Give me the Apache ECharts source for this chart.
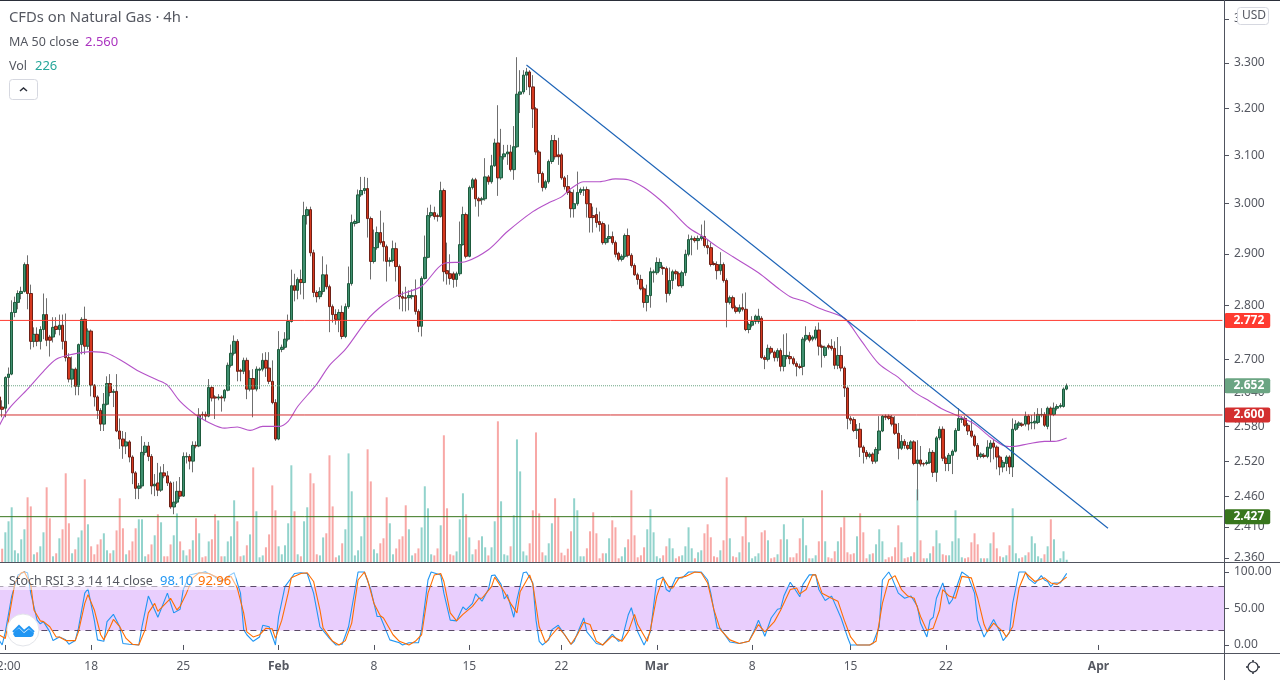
<!DOCTYPE html>
<html>
<head>
<meta charset="utf-8">
<title>CFDs on Natural Gas</title>
<style>
html, body { margin: 0; padding: 0; background: #fff; }
#mainChart { width: 1280px; height: 680px; }
</style>
<script src="https://cdn.jsdelivr.net/npm/echarts@6/dist/echarts.min.js"></script>
</head>
<body>
<div id="mainChart"></div>
<script>
// candles, one line = 10 bars
const opens = [
    2.632,2.614,2.612,2.667,2.673,2.787,2.806,2.823,2.827,2.879,
    2.823,2.733,2.746,2.733,2.755,2.783,2.741,2.741,2.761,2.755,
    2.763,2.733,2.703,2.664,2.682,2.651,2.727,2.774,2.724,2.752,
    2.653,2.632,2.608,2.584,2.619,2.656,2.640,2.642,2.572,2.558,
    2.546,2.553,2.527,2.500,2.474,2.478,2.535,2.546,2.528,2.478,
    2.483,2.471,2.500,2.495,2.483,2.443,2.451,2.469,2.461,2.527,
    2.528,2.520,2.547,2.546,2.601,2.601,2.598,2.649,2.632,2.630,
    2.632,2.630,2.644,2.689,2.711,2.733,2.680,2.678,2.698,2.646,
    2.665,2.646,2.680,2.682,2.698,2.684,2.660,2.622,2.558,2.718,
    2.722,2.737,2.770,2.838,2.829,2.850,2.844,2.976,2.988,2.902,
    2.825,2.817,2.827,2.859,2.836,2.798,2.783,2.774,2.787,2.742,
    2.798,2.842,2.960,2.962,3.018,3.027,3.031,2.970,2.885,2.912,
    2.942,2.924,2.914,2.885,2.887,2.910,2.875,2.817,2.815,2.815,
    2.817,2.819,2.789,2.761,2.852,2.893,2.976,2.982,2.976,2.974,
    3.027,2.867,2.861,2.861,2.850,2.861,2.918,2.978,2.895,3.033,
    3.049,3.010,3.008,3.010,3.055,3.045,3.078,3.126,3.053,3.097,
    3.103,3.107,3.070,3.118,3.231,3.236,3.273,3.280,3.247,3.199,
    3.107,3.062,3.033,3.045,3.087,3.131,3.101,3.101,3.053,3.035,
    3.023,2.990,3.000,3.023,3.027,3.029,3.000,2.976,2.978,2.964,
    2.960,2.922,2.930,2.934,2.922,2.901,2.889,2.895,2.936,2.897,
    2.877,2.859,2.850,2.832,2.806,2.819,2.863,2.863,2.873,2.873,
    2.871,2.823,2.848,2.865,2.861,2.838,2.863,2.899,2.928,2.930,
    2.926,2.930,2.934,2.916,2.912,2.881,2.879,2.867,2.879,2.848,
    2.806,2.815,2.796,2.789,2.796,2.793,2.755,2.763,2.770,2.770,
    2.776,2.703,2.700,2.720,2.713,2.703,2.716,2.687,2.705,2.705,
    2.701,2.692,2.687,2.687,2.737,2.744,2.737,2.739,2.754,2.724,
    2.707,2.725,2.724,2.720,2.689,2.707,2.684,2.648,2.594,2.592,
    2.573,2.575,2.544,2.535,2.528,2.532,2.520,2.539,2.572,2.598,
    2.598,2.596,2.584,2.568,2.542,2.554,2.547,2.542,2.553,2.516,
    2.522,2.516,2.516,2.518,2.535,2.501,2.560,2.575,2.525,2.516,
    2.530,2.537,2.573,2.592,2.594,2.582,2.572,2.563,2.547,2.528,
    2.530,2.528,2.542,2.551,2.544,2.527,2.510,2.516,2.527,2.510,
    2.575,2.582,2.584,2.584,2.598,2.586,2.586,2.587,2.600,2.601,
    2.580,2.612,2.601,2.612,2.615,2.615,2.646
];
const closes = [
    2.612,2.610,2.667,2.673,2.787,2.806,2.823,2.827,2.879,2.823,
    2.733,2.746,2.733,2.755,2.783,2.735,2.735,2.759,2.755,2.763,
    2.733,2.703,2.664,2.682,2.651,2.727,2.774,2.724,2.752,2.653,
    2.632,2.608,2.584,2.619,2.656,2.640,2.642,2.572,2.558,2.546,
    2.553,2.527,2.500,2.474,2.478,2.535,2.546,2.528,2.478,2.481,
    2.471,2.500,2.495,2.483,2.443,2.451,2.469,2.461,2.528,2.528,
    2.520,2.547,2.546,2.600,2.600,2.598,2.649,2.630,2.630,2.632,
    2.630,2.644,2.689,2.711,2.733,2.678,2.678,2.698,2.646,2.665,
    2.646,2.682,2.682,2.698,2.684,2.660,2.622,2.558,2.718,2.722,
    2.737,2.770,2.838,2.829,2.850,2.844,2.976,2.988,2.902,2.825,
    2.817,2.827,2.859,2.836,2.798,2.783,2.774,2.787,2.742,2.798,
    2.842,2.962,2.964,3.018,3.027,3.031,2.970,2.885,2.912,2.942,
    2.922,2.914,2.885,2.887,2.910,2.875,2.817,2.814,2.814,2.819,
    2.819,2.789,2.761,2.852,2.893,2.976,2.982,2.974,2.974,3.027,
    2.865,2.861,2.852,2.850,2.861,2.918,2.978,2.895,3.033,3.049,
    3.010,3.006,3.010,3.055,3.045,3.078,3.126,3.053,3.097,3.103,
    3.107,3.070,3.118,3.231,3.236,3.273,3.280,3.247,3.199,3.107,
    3.062,3.033,3.045,3.087,3.131,3.097,3.097,3.053,3.035,3.023,
    2.990,3.000,3.023,3.029,3.029,3.000,2.972,2.972,2.962,2.958,
    2.922,2.930,2.934,2.922,2.899,2.889,2.895,2.936,2.897,2.877,
    2.859,2.850,2.832,2.806,2.819,2.865,2.865,2.883,2.883,2.871,
    2.823,2.848,2.865,2.861,2.838,2.863,2.899,2.928,2.930,2.926,
    2.930,2.934,2.916,2.912,2.879,2.879,2.867,2.879,2.848,2.806,
    2.815,2.796,2.789,2.796,2.793,2.755,2.764,2.770,2.780,2.780,
    2.703,2.700,2.720,2.713,2.703,2.716,2.687,2.707,2.707,2.701,
    2.692,2.687,2.685,2.737,2.744,2.735,2.741,2.754,2.724,2.722,
    2.722,2.722,2.720,2.689,2.707,2.684,2.648,2.594,2.591,2.573,
    2.575,2.544,2.535,2.528,2.532,2.520,2.540,2.572,2.598,2.596,
    2.594,2.584,2.568,2.542,2.554,2.547,2.542,2.553,2.516,2.522,
    2.515,2.515,2.518,2.535,2.501,2.560,2.575,2.525,2.516,2.530,
    2.537,2.573,2.594,2.594,2.582,2.572,2.563,2.547,2.528,2.532,
    2.528,2.544,2.551,2.544,2.527,2.510,2.518,2.527,2.510,2.575,
    2.584,2.586,2.582,2.598,2.584,2.587,2.589,2.601,2.601,2.582,
    2.612,2.601,2.612,2.615,2.617,2.646,2.652
];
const highs = [
    2.642,2.626,2.669,2.685,2.810,2.817,2.829,2.836,2.883,2.897,
    2.840,2.759,2.759,2.761,2.823,2.814,2.745,2.778,2.778,2.783,
    2.783,2.785,2.711,2.705,2.685,2.729,2.778,2.798,2.757,2.755,
    2.655,2.635,2.612,2.639,2.669,2.673,2.646,2.673,2.594,2.572,
    2.570,2.556,2.530,2.503,2.483,2.563,2.553,2.553,2.532,2.498,
    2.517,2.511,2.515,2.503,2.486,2.485,2.486,2.493,2.535,2.535,
    2.532,2.554,2.554,2.612,2.606,2.606,2.664,2.651,2.635,2.637,
    2.635,2.646,2.694,2.727,2.744,2.737,2.683,2.703,2.703,2.680,
    2.682,2.687,2.685,2.711,2.713,2.713,2.698,2.628,2.752,2.727,
    2.750,2.783,2.869,2.861,2.854,2.869,3.004,2.994,2.994,2.908,
    2.829,2.835,2.895,2.879,2.840,2.802,2.793,2.793,2.800,2.804,
    2.875,2.978,2.968,3.029,3.055,3.055,3.053,2.974,2.948,2.954,
    2.986,2.962,2.918,2.893,2.926,2.922,2.879,2.827,2.836,2.829,
    2.831,2.850,2.793,2.856,2.936,2.992,2.998,2.994,2.980,3.045,
    3.031,2.922,2.899,2.865,2.865,2.964,2.994,2.982,3.037,3.053,
    3.053,3.014,3.014,3.094,3.059,3.101,3.135,3.207,3.156,3.122,
    3.122,3.122,3.162,3.313,3.284,3.284,3.289,3.284,3.273,3.203,
    3.111,3.066,3.049,3.091,3.143,3.143,3.137,3.105,3.057,3.059,
    3.027,3.029,3.066,3.033,3.035,3.035,3.029,2.994,2.992,2.984,
    2.964,2.958,2.958,2.944,2.926,2.904,2.899,2.940,2.950,2.901,
    2.881,2.863,2.859,2.836,2.840,2.873,2.869,2.893,2.891,2.877,
    2.875,2.873,2.869,2.869,2.865,2.867,2.908,2.938,2.936,2.934,
    2.936,2.958,2.966,2.928,2.922,2.885,2.885,2.903,2.883,2.852,
    2.819,2.819,2.800,2.802,2.823,2.825,2.768,2.780,2.783,2.794,
    2.780,2.707,2.727,2.724,2.716,2.720,2.720,2.746,2.748,2.714,
    2.705,2.696,2.692,2.741,2.761,2.750,2.744,2.761,2.768,2.727,
    2.725,2.729,2.737,2.733,2.741,2.724,2.687,2.651,2.598,2.596,
    2.584,2.586,2.547,2.539,2.535,2.535,2.544,2.598,2.600,2.601,
    2.601,2.600,2.598,2.586,2.565,2.558,2.553,2.556,2.556,2.556,
    2.546,2.518,2.522,2.542,2.539,2.563,2.580,2.580,2.528,2.534,
    2.540,2.577,2.612,2.598,2.598,2.586,2.592,2.566,2.551,2.535,
    2.534,2.556,2.556,2.558,2.547,2.530,2.522,2.530,2.530,2.594,
    2.591,2.589,2.587,2.606,2.601,2.600,2.605,2.612,2.612,2.605,
    2.615,2.615,2.622,2.619,2.621,2.649,2.656
];
const lows = [
    2.601,2.596,2.596,2.619,2.671,2.778,2.793,2.812,2.825,2.793,
    2.718,2.722,2.724,2.718,2.737,2.724,2.705,2.731,2.746,2.744,
    2.718,2.696,2.658,2.649,2.635,2.635,2.709,2.709,2.718,2.633,
    2.615,2.593,2.572,2.572,2.617,2.633,2.614,2.570,2.541,2.524,
    2.532,2.518,2.481,2.456,2.456,2.474,2.530,2.520,2.464,2.461,
    2.461,2.468,2.491,2.478,2.440,2.431,2.448,2.456,2.460,2.516,
    2.506,2.501,2.542,2.544,2.593,2.589,2.596,2.624,2.593,2.626,
    2.606,2.624,2.642,2.685,2.707,2.660,2.660,2.673,2.628,2.642,
    2.596,2.642,2.646,2.678,2.668,2.655,2.619,2.555,2.556,2.713,
    2.718,2.733,2.768,2.808,2.812,2.821,2.812,2.958,2.895,2.816,
    2.806,2.812,2.821,2.831,2.750,2.768,2.764,2.750,2.737,2.739,
    2.794,2.838,2.954,2.960,3.014,3.020,2.932,2.850,2.881,2.908,
    2.918,2.885,2.846,2.875,2.883,2.846,2.793,2.789,2.789,2.791,
    2.812,2.783,2.750,2.742,2.850,2.891,2.972,2.968,2.964,2.972,
    2.846,2.840,2.840,2.834,2.836,2.857,2.916,2.891,2.893,3.029,
    2.994,2.974,2.998,3.006,3.039,3.041,3.076,3.016,3.049,3.091,
    3.080,3.066,3.049,3.116,3.190,3.231,3.240,3.229,3.158,3.101,
    3.043,3.025,3.029,3.041,3.082,3.091,3.080,3.049,3.029,3.018,
    2.972,2.972,2.996,3.018,3.016,2.972,2.942,2.942,2.952,2.944,
    2.918,2.918,2.922,2.918,2.893,2.885,2.885,2.891,2.893,2.873,
    2.857,2.840,2.829,2.796,2.789,2.796,2.844,2.859,2.865,2.859,
    2.806,2.819,2.831,2.850,2.836,2.834,2.857,2.895,2.897,2.922,
    2.908,2.926,2.912,2.899,2.875,2.877,2.850,2.859,2.844,2.759,
    2.802,2.793,2.785,2.785,2.789,2.752,2.748,2.759,2.765,2.766,
    2.701,2.682,2.696,2.709,2.696,2.696,2.678,2.678,2.700,2.691,
    2.689,2.669,2.682,2.671,2.733,2.731,2.733,2.735,2.707,2.685,
    2.703,2.718,2.716,2.682,2.682,2.678,2.632,2.575,2.584,2.570,
    2.558,2.527,2.516,2.523,2.525,2.515,2.516,2.532,2.570,2.591,
    2.591,2.580,2.565,2.523,2.539,2.541,2.539,2.539,2.513,2.454,
    2.511,2.511,2.513,2.515,2.493,2.485,2.556,2.520,2.503,2.503,
    2.498,2.535,2.572,2.586,2.579,2.565,2.560,2.544,2.522,2.525,
    2.525,2.525,2.518,2.523,2.506,2.496,2.501,2.503,2.498,2.493,
    2.572,2.577,2.579,2.580,2.573,2.575,2.575,2.584,2.596,2.579,
    2.575,2.553,2.598,2.608,2.612,2.613,2.644
];
const volumes = [
    750,1330,2970,4070,5470,1170,870,2270,3270,6470,
    5560,770,970,1570,2970,7470,4370,570,870,2370,
    3270,8870,3870,870,1270,2460,3160,8270,3770,1570,
    770,1760,2270,2870,1170,870,1170,3160,6370,3370,
    770,1170,2060,3370,4270,4270,570,770,1760,2670,
    4770,3970,570,570,1760,2670,4860,2060,1170,660,
    1270,2170,4370,2870,470,570,2060,2270,4770,4160,
    570,570,2060,2570,6170,4070,570,660,1670,2760,
    9460,5070,470,660,1470,2760,7660,5170,1570,770,
    1670,3870,9670,5070,770,570,4070,5470,8870,7870,
    770,660,2460,2870,10670,5560,470,660,1870,3270,
    10860,7070,660,1170,2570,4470,11270,8060,1270,870,
    1870,2370,6470,3870,770,1360,2270,2570,5670,3270,
    660,870,1360,3460,7570,5370,770,660,1360,3670,
    12670,5370,770,660,1060,4270,6870,4770,2460,770,
    1270,2170,2570,1470,660,1470,4070,14070,6070,770,
    660,1570,4670,12260,9060,1060,660,1870,5170,12960,
    4860,970,660,1870,3870,6370,4600,930,670,1330,
    3070,6370,5170,570,570,1370,3070,4970,2870,370,
    870,870,2370,4170,3470,370,570,1470,2270,7170,
    2670,470,670,1470,3270,5270,2970,570,370,670,
    1570,2370,1370,370,570,670,1570,3470,1370,370,
    970,1170,2870,3770,2470,570,470,1170,2170,8470,
    2370,570,470,970,2570,4570,1970,370,570,870,
    2970,3170,2170,370,470,770,2270,3770,2270,470,
    470,870,2370,4370,1670,370,370,670,2070,7170,
    2070,470,370,1070,2070,3470,4470,970,770,870,
    2570,4870,2970,370,770,870,1770,3270,2070,270,
    470,570,1470,3670,1970,370,470,570,970,7270,
    2170,370,370,870,1570,3170,1870,770,670,670,
    2070,5170,2370,470,370,470,1970,2870,1770,370,
    370,370,1870,2970,1370,570,470,670,1670,5370,
    870,370,470,670,970,2570,1870,570,370,770,
    1570,4270,2270,170,370,1070,226
];
// [bar, value] at the bends of each line
const ma50 = [
    [0,2.580],[3,2.610],[9,2.646],[14,2.678],[18,2.700],[23,2.709],[29,2.714],[34,2.711],[39,2.696],[44,2.678],
    [50,2.662],[53,2.653],[57,2.624],[62,2.600],[66,2.587],[71,2.577],[75,2.579],[79,2.573],[83,2.580],[88,2.580],
    [91,2.589],[94,2.615],[100,2.655],[104,2.689],[109,2.718],[116,2.774],[121,2.802],[125,2.818],[133,2.837],[140,2.881],
    [147,2.885],[154,2.908],[160,2.944],[168,2.984],[173,3.002],[177,3.014],[180,3.031],[184,3.045],[189,3.045],[194,3.051],
    [198,3.049],[203,3.033],[208,3.008],[212,2.984],[217,2.952],[222,2.932],[226,2.914],[231,2.894],[239,2.863],[245,2.834],
    [249,2.817],[253,2.809],[259,2.793],[266,2.776],[271,2.737],[277,2.691],[283,2.667],[288,2.641],[293,2.624],[297,2.610],
    [302,2.598],[307,2.584],[312,2.561],[316,2.547],[319,2.545],[324,2.550],[329,2.554],[332,2.554],[336,2.560]
];
const stochK = [
    [0,7],[1,0],[2,18],[4,67],[6,96],[8,100],[9,99],[10,71],[12,34],[13,29],[14,32],[16,18],[17,6],[19,11],[21,7],[22,1],[24,6],[25,23],[27,71],[28,77],
    [30,34],[31,7],[33,5],[34,32],[36,42],[38,25],[39,2],[41,1],[44,0],[45,25],[47,67],[49,48],[50,38],[53,71],[55,44],[57,49],[58,76],[60,96],[62,98],[65,100],
    [67,96],[70,87],[72,94],[74,99],[76,71],[77,21],[78,14],[80,5],[82,11],[83,27],[85,25],[87,0],[88,39],[90,80],[93,98],[95,99],[97,98],[99,71],[101,25],[104,9],
    [106,0],[108,1],[110,25],[113,100],[115,100],[117,76],[119,39],[120,39],[123,7],[126,3],[127,0],[129,3],[132,3],[133,21],[135,89],[136,100],[139,96],[140,71],[142,34],[144,33],
    [146,52],[147,48],[149,57],[150,70],[152,60],[154,76],[155,95],[156,96],[158,83],[159,63],[160,69],[162,38],[163,62],[165,99],[166,100],[168,85],[169,34],[170,5],[171,0],[173,7],
    [174,21],[176,27],[178,14],[180,1],[181,5],[184,37],[185,18],[188,2],[190,0],[193,15],[195,5],[196,7],[198,41],[199,51],[201,18],[203,0],[205,18],[207,89],[209,93],[210,76],
    [211,73],[213,92],[215,92],[217,100],[221,100],[223,89],[224,71],[226,23],[227,23],[230,4],[233,2],[236,5],[238,23],[239,34],[241,12],[243,37],[245,49],[246,50],[247,67],[249,86],
    [251,73],[252,66],[253,83],[255,96],[257,96],[258,76],[260,61],[262,67],[263,57],[265,37],[267,11],[268,0],[274,0],[275,2],[277,25],[278,89],[280,100],[281,92],[283,71],[285,64],
    [287,67],[289,53],[290,30],[292,11],[293,34],[294,38],[295,64],[297,85],[299,56],[300,62],[303,100],[305,94],[307,71],[308,34],[310,11],[313,35],[315,18],[316,6],[318,17],[319,57],
    [321,100],[323,100],[324,91],[326,84],[328,95],[329,89],[330,87],[331,80],[332,85],[334,85],[336,98.1]
];
const stochD = [
    [0,14],[2,9],[3,34],[5,85],[7,99],[8,100],[10,83],[11,48],[13,33],[14,32],[16,25],[18,11],[19,11],[21,6],[24,6],[25,18],[27,57],[28,69],[30,48],[32,14],
    [33,7],[35,25],[36,35],[38,25],[40,9],[42,1],[44,0],[46,21],[47,44],[49,57],[50,46],[54,64],[56,48],[57,53],[59,71],[61,92],[63,99],[66,98],[69,92],[71,89],
    [73,94],[75,78],[77,44],[78,18],[80,11],[82,14],[84,23],[86,22],[87,9],[89,34],[91,71],[92,92],[95,98],[97,99],[99,87],[101,48],[102,23],[105,5],[107,0],[109,6],
    [111,30],[113,89],[115,100],[116,89],[118,57],[120,40],[121,37],[124,14],[126,5],[129,0],[131,5],[133,14],[135,71],[137,96],[139,98],[140,87],[142,44],[144,33],[146,42],[149,53],
    [151,64],[152,64],[155,80],[156,93],[159,73],[161,57],[163,44],[164,73],[167,96],[168,83],[170,25],[172,3],[174,14],[176,24],[178,14],[180,1],[182,14],[184,31],[186,28],[188,5],
    [190,0],[193,12],[196,5],[198,18],[200,42],[201,28],[204,5],[205,21],[207,67],[209,92],[211,78],[212,78],[214,92],[216,94],[219,100],[221,99],[223,85],[225,48],[227,21],[230,7],
    [233,2],[236,5],[239,28],[241,18],[244,32],[246,48],[249,76],[251,78],[252,70],[254,76],[256,96],[257,96],[259,71],[262,64],[264,60],[266,34],[268,11],[270,0],[274,0],[276,5],
    [278,57],[280,89],[282,95],[284,76],[286,67],[288,64],[290,39],[292,20],[294,23],[296,48],[297,76],[299,67],[301,64],[303,94],[306,92],[308,64],[310,28],[311,18],[313,30],[316,18],
    [317,11],[319,25],[321,78],[323,99],[326,87],[329,92],[331,85],[333,83],[336,92.96]
];
const trendLine = [[166, 3.2955], [349, 2.408]];

const barCount = 386;
const tickBars = [2, 29, 58, 88, 118, 148, 177, 207, 237, 268, 298, 346];
const tickLabels = ['12:00', '18', '25', 'Feb', '8', '15', '22', 'Mar', '8', '15', '22', 'Apr'];
const monthLabels = ['Feb', 'Mar', 'Apr'];
const priceTicks = [2.36, 2.41, 2.46, 2.52, 2.58, 2.64, 2.7, 2.8, 2.9, 3.0, 3.1, 3.2, 3.3, 3.4];
const stochTicks = [0, 50, 100];
const levelPrices = [2.652, 2.772, 2.6, 2.427];
const levelColors = ['#6ba583', '#ff3b30', '#d32f2f', '#38761d'];
const levelTypes = ['dotted', 'solid', 'solid', 'solid'];

const fontName = '"Noto Sans", sans-serif';
const textGrey = '#555861';
const frameColor = '#50535e';

const categories = [];
for (let i = 0; i < barCount; i++) {
    const t = tickBars.indexOf(i);
    categories.push(t >= 0 ? tickLabels[t] : '');
}
const isTickBar = function (index) {
    return tickBars.indexOf(index) >= 0;
};

// body and wick have different colours, so two candlestick layers
const wickData = [], bodyData = [], volumeData = [];
for (let i = 0; i < opens.length; i++) {
    wickData.push([opens[i], closes[i], lows[i], highs[i]]);
    bodyData.push([opens[i], closes[i], Math.min(opens[i], closes[i]), Math.max(opens[i], closes[i])]);
    volumeData.push({
        value: volumes[i],
        itemStyle: {color: closes[i] >= opens[i] ? '#92d3cc' : '#f8a8a6'}
    });
}

// a two point line with its price badge as the end label
function levelSeries(index) {
    return {
        name: 'Level ' + levelPrices[index],
        type: 'line', xAxisIndex: 0, yAxisIndex: 0, z: 7, silent: true, showSymbol: false, clip: false,
        data: [[0, levelPrices[index]], [barCount - 1, levelPrices[index]]],
        lineStyle: {color: levelColors[index], width: 1, type: levelTypes[index]},
        endLabel: {
            show: true,
            distance: 2,
            formatter: levelPrices[index].toFixed(3),
            color: '#fff',
            backgroundColor: levelColors[index],
            borderRadius: 2,
            padding: [2, 6, 1, 9],
            fontFamily: fontName,
            fontSize: 12,
            fontWeight: 'bold'
        }
    };
}

function legendText(x, y, text, color, size) {
    return {
        type: 'text',
        left: x,
        top: y,
        z: 50,
        style: {text: text, fill: color, font: (size || 12.5) + 'px ' + fontName}
    };
}

const option = {
    animation: false,
    backgroundColor: '#fff',
    grid: [
        {left: -2.6, top: 2, width: 1226.6, height: 560, outerBoundsMode: 'none'},
        {left: -2.6, top: 563, width: 1226.6, height: 90, outerBoundsMode: 'none'}
    ],
    xAxis: [
        {
            type: 'category', gridIndex: 0, data: categories,
            axisLine: {show: false}, axisTick: {show: false}, axisLabel: {show: false}, splitLine: {show: false}
        },
        {
            type: 'category', gridIndex: 1, data: categories,
            axisLine: {show: false},
            axisTick: {show: true, alignWithLabel: true, length: 5, interval: isTickBar, lineStyle: {color: frameColor}},
            axisLabel: {
                show: true, interval: isTickBar, margin: 8, hideOverlap: false,
                color: textGrey, fontFamily: fontName, fontSize: 12,
                formatter: function (value) {
                    return monthLabels.indexOf(value) >= 0 ? '{m|' + value + '}' : value;
                },
                rich: {m: {fontWeight: 'bold', color: textGrey, fontFamily: fontName, fontSize: 12}}
            },
            splitLine: {show: false}
        }
    ],
    yAxis: [
        {
            type: 'log', gridIndex: 0, position: 'right', min: 2.3536, max: 3.4392, logBase: 10,
            axisLine: {show: false},
            axisTick: {show: true, length: 5, customValues: priceTicks, lineStyle: {color: frameColor}},
            axisLabel: {
                show: true, margin: 10, customValues: priceTicks, padding: [2, 0, 0, 0],
                color: textGrey, fontFamily: fontName, fontSize: 12,
                formatter: function (value) {
                    return Number(value).toFixed(3);
                }
            },
            splitLine: {show: false}
        },
        {type: 'value', gridIndex: 0, min: 0, max: 56000, show: false, splitLine: {show: false}},
        {
            type: 'value', gridIndex: 1, position: 'right', min: -11, max: 112.33,
            axisLine: {show: false},
            axisTick: {show: true, length: 5, customValues: stochTicks, lineStyle: {color: frameColor}},
            axisLabel: {
                show: true, margin: 10, customValues: stochTicks, padding: [2, 0, 0, 0],
                color: textGrey, fontFamily: fontName, fontSize: 12,
                formatter: function (value) {
                    return Number(value).toFixed(2);
                }
            },
            splitLine: {show: false}
        }
    ],
    series: [
        {
            name: 'Vol', type: 'bar', xAxisIndex: 0, yAxisIndex: 1, data: volumeData,
            barWidth: 2, z: 1, silent: true
        },
        {
            name: 'Wick', type: 'candlestick', xAxisIndex: 0, yAxisIndex: 0, data: wickData,
            barWidth: 1, z: 3, silent: true,
            itemStyle: {color: '#6f6f6f', color0: '#6f6f6f', borderColor: '#6f6f6f', borderColor0: '#6f6f6f', borderWidth: 1}
        },
        {
            name: 'CFDs on Natural Gas', type: 'candlestick', xAxisIndex: 0, yAxisIndex: 0, data: bodyData,
            barWidth: 3, z: 4, silent: true,
            itemStyle: {color: '#3f9070', color0: '#d6391f', borderColor: '#1d5a3c', borderColor0: '#6e2016', borderWidth: 1}
        },
        {
            name: 'MA 50', type: 'line', xAxisIndex: 0, yAxisIndex: 0, data: ma50,
            showSymbol: false, smooth: 0.3, z: 5, silent: true,
            lineStyle: {color: '#b452c8', width: 1.1}
        },
        {
            name: 'Trend', type: 'line', xAxisIndex: 0, yAxisIndex: 0, data: trendLine,
            showSymbol: false, z: 6, silent: true,
            lineStyle: {color: '#1c63b7', width: 1.1}
        },
        levelSeries(0),
        levelSeries(1),
        levelSeries(2),
        levelSeries(3),
        {
            name: 'Stoch K', type: 'line', xAxisIndex: 1, yAxisIndex: 2, data: stochK,
            showSymbol: false, z: 4, silent: true,
            lineStyle: {color: '#2196f3', width: 1.1},
            markArea: {
                silent: true,
                itemStyle: {color: '#e9cefd'},
                data: [[{yAxis: 80}, {yAxis: 20}]]
            },
            markLine: {
                silent: true, symbol: 'none', animation: false, label: {show: false},
                lineStyle: {color: '#5b4a68', width: 1, type: [6, 5]},
                data: [{yAxis: 80}, {yAxis: 20}]
            }
        },
        {
            name: 'Stoch D', type: 'line', xAxisIndex: 1, yAxisIndex: 2, data: stochD,
            showSymbol: false, z: 5, silent: true,
            lineStyle: {color: '#ff6d00', width: 1.1}
        }
    ],
    graphic: [
        // frame
        {type: 'rect', shape: {x: 0, y: 0, width: 1280, height: 1}, style: {fill: '#2a2e39'}, z: 40},
        {type: 'rect', shape: {x: 1224, y: 0, width: 1, height: 680}, style: {fill: frameColor}, z: 40},
        {type: 'rect', shape: {x: 0, y: 562, width: 1280, height: 1}, style: {fill: frameColor}, z: 40},
        {type: 'rect', shape: {x: 0, y: 653, width: 1280, height: 1}, style: {fill: frameColor}, z: 40},
        // legends
        legendText(9, 10, 'CFDs on Natural Gas · 4h ·', '#555861', 14.8),
        legendText(9, 36, 'MA 50 close', '#555861'),
        legendText(85, 36, '2.560', '#ab34c0', 13),
        legendText(9, 60, 'Vol', '#555861'),
        legendText(35, 60, '226', '#26a69a', 13),
        {
            type: 'rect', z: 49,
            shape: {x: 9.5, y: 79.5, width: 28, height: 20, r: 3},
            style: {fill: '#fff', stroke: '#d6d8e0', lineWidth: 1}
        },
        {
            type: 'polyline', z: 50,
            shape: {points: [[20, 91], [23.5, 88], [27, 91]]},
            style: {fill: 'none', stroke: '#2a2e39', lineWidth: 1.5}
        },
        // price scale corner
        {
            type: 'rect', z: 49,
            shape: {x: 1237.5, y: 7.5, width: 31, height: 17, r: 3},
            style: {fill: '#fff', stroke: '#d6d8e0', lineWidth: 1}
        },
        legendText(1242, 10, 'USD', '#555861', 12),
        // stoch legend
        {
            type: 'rect', z: 12, shape: {x: 0, y: 572, width: 236, height: 18},
            style: {fill: 'rgba(255,255,255,0.5)'}
        },
        legendText(9, 575, 'Stoch RSI 3 3 14 14 close', '#555861'),
        legendText(160, 575, '98.10', '#2196f3', 13),
        legendText(198, 575, '92.96', '#ff6d00', 13),
        // logo
        {
            type: 'circle', z: 30, shape: {cx: 23, cy: 630, r: 16},
            style: {fill: '#fff', stroke: '#e3e5ea', lineWidth: 1}
        },
        {
            type: 'polygon', z: 31,
            shape: {points: [[15, 637], [13, 634], [15, 631], [19, 628], [24, 633], [29, 629], [34, 633], [33, 636], [31, 637]]},
            style: {fill: '#2196f3'}
        },
        {
            type: 'polyline', z: 32,
            shape: {points: [[13, 632], [19, 626], [24, 631], [29, 627], [34, 632]]},
            style: {fill: 'none', stroke: '#2196f3', lineWidth: 2}
        },
        // settings gear
        {
            type: 'circle', z: 50, shape: {cx: 1253, cy: 667, r: 5},
            style: {fill: '#fff', stroke: '#2a2e39', lineWidth: 1.2}
        },
        {
            type: 'polyline', z: 49, shape: {points: [[1253, 660], [1253, 674]]},
            style: {fill: 'none', stroke: '#2a2e39', lineWidth: 1.5}
        },
        {
            type: 'polyline', z: 49, shape: {points: [[1246, 667], [1260, 667]]},
            style: {fill: 'none', stroke: '#2a2e39', lineWidth: 1.5}
        }
    ]
};

const myChart = echarts.init(document.getElementById('mainChart'), null, {renderer: 'canvas'});
myChart.setOption(option);
</script>
</body>
</html>
